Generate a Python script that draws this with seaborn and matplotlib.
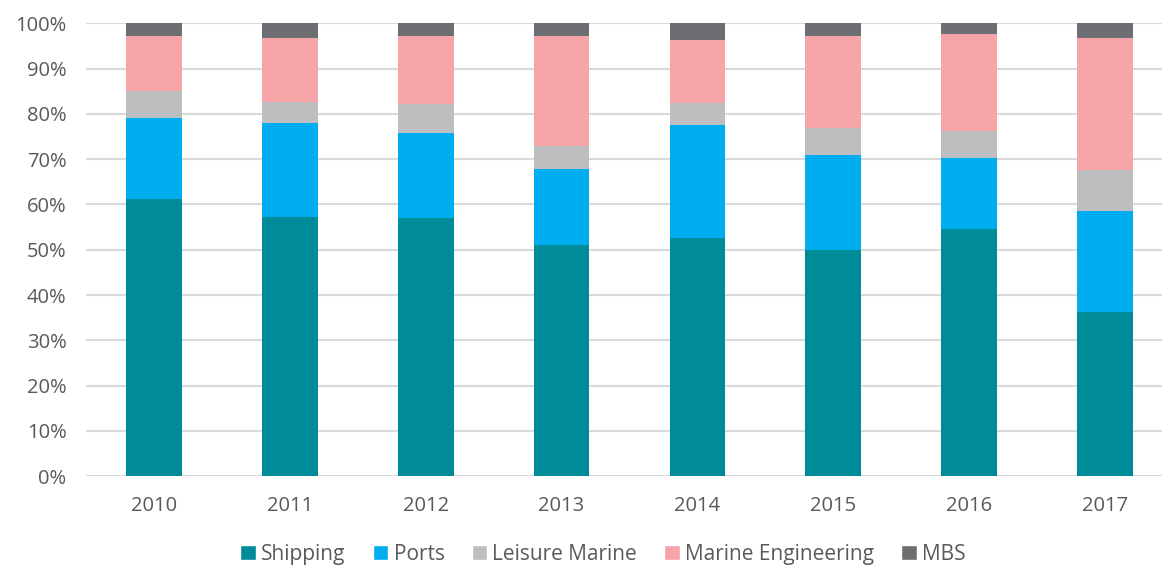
import numpy as np
import pandas as pd
import seaborn as sns
import matplotlib.pyplot as plt
from matplotlib.ticker import PercentFormatter
from matplotlib.patches import Patch

years = ['2010', '2011', '2012', '2013', '2014', '2015', '2016', '2017']
shipping = [61.2, 57.3, 57.1, 51.0, 52.7, 49.9, 54.5, 36.2]
ports = [18.0, 20.8, 18.7, 16.9, 24.9, 21.0, 15.8, 22.3]
leisure = [5.9, 4.6, 6.4, 5.0, 4.8, 6.0, 5.9, 9.2]
marine_eng = [12.1, 14.0, 15.0, 24.2, 14.0, 20.3, 21.5, 29.1]
mbs = [2.8, 3.3, 2.8, 2.9, 3.6, 2.8, 2.3, 3.2]

segments = ['Shipping', 'Ports', 'Leisure Marine', 'Marine Engineering', 'MBS']
colors = ['#008B99', '#00AEEF', '#BDBEC0', '#F7A4A8', '#6D6E71']

df = pd.DataFrame({'Shipping': shipping, 'Ports': ports, 'Leisure Marine': leisure,
                   'Marine Engineering': marine_eng, 'MBS': mbs}, index=years)
cum = df.cumsum(axis=1)

sns.set_style('white')
plt.rcParams['font.family'] = ['Open Sans', 'DejaVu Sans']

fig = plt.figure(figsize=(11.62, 5.69), dpi=100)
# axes runs a bit past the right edge, like the original export
ax = fig.add_axes([0.074, 0.163, 0.9355, 0.796])

# draw the tallest cumulative first so the smaller ones sit on top
for seg, col in reversed(list(zip(segments, colors))):
    sns.barplot(x=years, y=cum[seg].values, color=col, width=0.41,
                ax=ax, saturation=1, zorder=3, edgecolor='none')

ax.set_ylim(0, 100)
ax.set_yticks(np.arange(0, 101, 10))
ax.yaxis.set_major_formatter(PercentFormatter(decimals=0))
ax.grid(axis='y', color='#D9D9D9', linewidth=1.5, zorder=0)
ax.set_axisbelow(True)
for s in ax.spines.values():
    s.set_visible(False)
ax.tick_params(axis='both', length=0, labelsize=14.5, colors='#595959')
ax.tick_params(axis='y', pad=14)
ax.tick_params(axis='x', pad=14)
ax.set_xlabel('')
ax.set_ylabel('')

handles = [Patch(facecolor=c, label=s) for s, c in zip(segments, colors)]
fig.legend(handles=handles, loc='center', bbox_to_anchor=(0.519, 0.026), ncol=5,
           frameon=False, fontsize=15, handlelength=0.75, handleheight=0.75,
           handletextpad=0.25, columnspacing=1.3, labelcolor='#595959')

fig.savefig('out.png', dpi=100)
